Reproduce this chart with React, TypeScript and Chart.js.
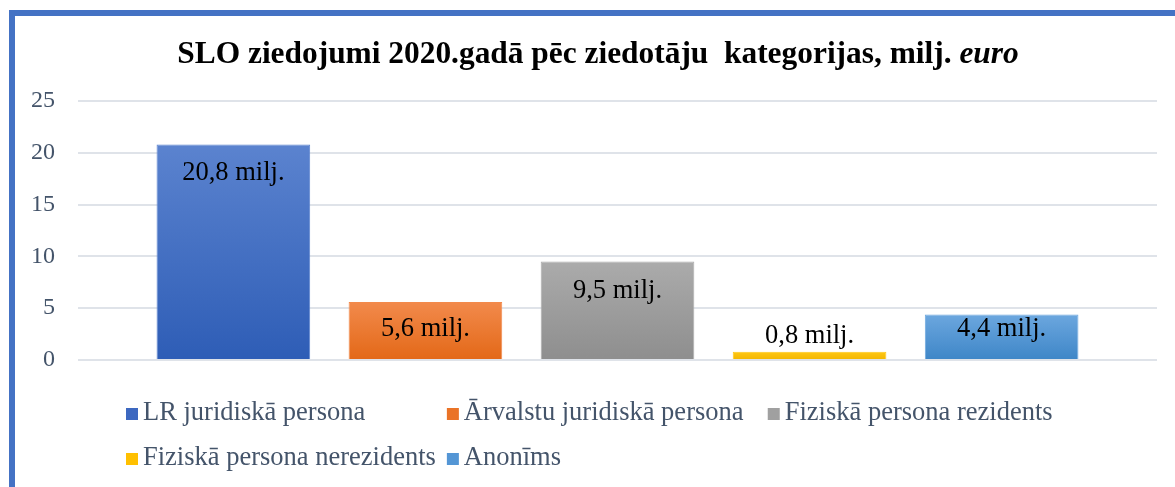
import React, { useEffect, useRef } from 'react';
import { Chart, registerables } from 'chart.js';

Chart.register(...registerables);

const FONT = "'Liberation Serif', 'Times New Roman', serif";

const titleMain = 'SLO ziedojumi 2020.gadā pēc ziedotāju  kategorijas, milj. ';
const titleItalic = 'euro';
const categories = [''];
const seriesNames = [
  'LR juridiskā persona',
  'Ārvalstu juridiskā persona',
  'Fiziskā persona rezidents',
  'Fiziskā persona nerezidents',
  'Anonīms',
];
const seriesValues = [20.8, 5.6, 9.5, 0.8, 4.4];
const labelSuffix = ' milj.';
const yMin = 0;
const yMax = 25;
const yStep = 5;
const topColors = ['#5B83CF', '#F28A4C', '#ABABAB', '#FFC814', '#6CA7DF'];
const bottomColors = ['#2E5DB6', '#E36817', '#8E8E8E', '#F2B500', '#3E86C7'];
const legendColors = ['#3D68C0', '#EA7327', '#A0A0A0', '#FFC000', '#5496D5'];

const TEXT_GRAY = '#44546A';

const titlePlugin = {
  id: 'mixedTitle',
  afterDraw(chart: any) {
    const { ctx, width } = chart;
    const size = 31.4;
    ctx.save();
    ctx.fillStyle = '#000000';
    ctx.textBaseline = 'alphabetic';
    ctx.font = `bold ${size}px ${FONT}`;
    const w1 = ctx.measureText(titleMain).width;
    ctx.font = `italic bold ${size}px ${FONT}`;
    const w2 = ctx.measureText(titleItalic).width;
    const x0 = width / 2 + 3 - (w1 + w2) / 2;
    const y = 47;
    ctx.font = `bold ${size}px ${FONT}`;
    ctx.fillText(titleMain, x0, y);
    ctx.font = `italic bold ${size}px ${FONT}`;
    ctx.fillText(titleItalic, x0 + w1, y);
    ctx.restore();
  },
};

const valueLabelPlugin = {
  id: 'valueLabels',
  afterDatasetsDraw(chart: any) {
    const { ctx } = chart;
    ctx.save();
    ctx.font = `26.5px ${FONT}`;
    ctx.fillStyle = '#000000';
    ctx.textAlign = 'center';
    chart.data.datasets.forEach((ds: any, i: number) => {
      const meta = chart.getDatasetMeta(i);
      const bar = meta.data[0];
      if (!bar) return;
      const v = ds.data[0];
      const text = v.toFixed(1).replace('.', ',') + labelSuffix;
      const h = bar.base - bar.y;
      if (h < 25) {
        ctx.textBaseline = 'alphabetic';
        ctx.fillText(text, bar.x, bar.y - 9);
      } else {
        ctx.textBaseline = 'middle';
        ctx.fillText(text, bar.x, bar.y + Math.min(29, h - 30));
      }
    });
    ctx.restore();
  },
};

const legendPlugin = {
  id: 'gridLegend',
  afterDraw(chart: any) {
    const { ctx, chartArea } = chart;
    const perRow = 3;
    const box = 12;
    const boxGap = 5;
    const colGap = 11;
    ctx.save();
    ctx.font = `26.5px ${FONT}`;
    const names = chart.data.datasets.map((d: any) => d.label);
    let colWidth = 0;
    names.forEach((n: string) => {
      colWidth = Math.max(colWidth, box + boxGap + ctx.measureText(n).width);
    });
    colWidth += colGap;
    const startX = chartArea.left + 48;
    const rowY0 = chartArea.bottom + 53;
    const rowH = 45;
    ctx.textBaseline = 'middle';
    ctx.textAlign = 'left';
    names.forEach((n: string, i: number) => {
      const c = i % perRow;
      const r = Math.floor(i / perRow);
      const x = startX + c * colWidth;
      const y = rowY0 + r * rowH;
      ctx.fillStyle = legendColors[i];
      ctx.fillRect(x, y - box / 2 + 1, box, box);
      ctx.fillStyle = TEXT_GRAY;
      ctx.fillText(n, x + box + boxGap, y);
    });
    ctx.restore();
  },
};

function makeGradient(context: any, i: number) {
  const chart = context.chart;
  const area = chart.chartArea;
  if (!area) return topColors[i];
  const yScale = chart.scales.y;
  const top = yScale.getPixelForValue(seriesValues[i]);
  const bottom = yScale.getPixelForValue(0);
  const g = chart.ctx.createLinearGradient(0, top, 0, bottom + 0.001);
  g.addColorStop(0, topColors[i]);
  g.addColorStop(1, bottomColors[i]);
  return g;
}

export default function App() {
  const ref = useRef<HTMLCanvasElement>(null);

  useEffect(() => {
    document.documentElement.style.overflow = 'hidden';
    document.body.style.overflow = 'hidden';
    const canvas = ref.current;
    if (!canvas) return;
    const chart = new Chart(canvas, {
      type: 'bar',
      data: {
        labels: categories,
        datasets: seriesNames.map((name, i) => ({
          label: name,
          data: [seriesValues[i]],
          backgroundColor: (c: any) => makeGradient(c, i),
          borderColor: topColors[i],
          borderWidth: 1,
          categoryPercentage: 0.89,
          barPercentage: 0.8,
        })),
      },
      options: {
        animation: false,
        responsive: false,
        devicePixelRatio: 1,
        layout: { padding: { top: 85, bottom: 127, left: 0, right: 18 } },
        plugins: {
          legend: { display: false },
          title: { display: false },
          tooltip: { enabled: false },
        },
        scales: {
          x: { display: false },
          y: {
            min: yMin,
            max: yMax,
            ticks: {
              stepSize: yStep,
              padding: 23,
              color: TEXT_GRAY,
              font: { family: FONT, size: 24 },
            },
            grid: {
              color: '#DFE3E9',
              lineWidth: 2,
              drawTicks: false,
            },
            border: { display: false },
            afterFit: (scale: any) => {
              scale.width = 63;
            },
          },
        },
      } as any,
      plugins: [titlePlugin, valueLabelPlugin, legendPlugin],
    });
    return () => chart.destroy();
  }, []);

  return (
    <div
      style={{
        position: 'absolute',
        left: 9,
        top: 10,
        width: 1166,
        height: 490,
        borderTop: '6px solid #4472C4',
        borderLeft: '6px solid #4472C4',
        background: '#ffffff',
      }}
    >
      <canvas ref={ref} width={1160} height={471} style={{ display: 'block' }} />
    </div>
  );
}
